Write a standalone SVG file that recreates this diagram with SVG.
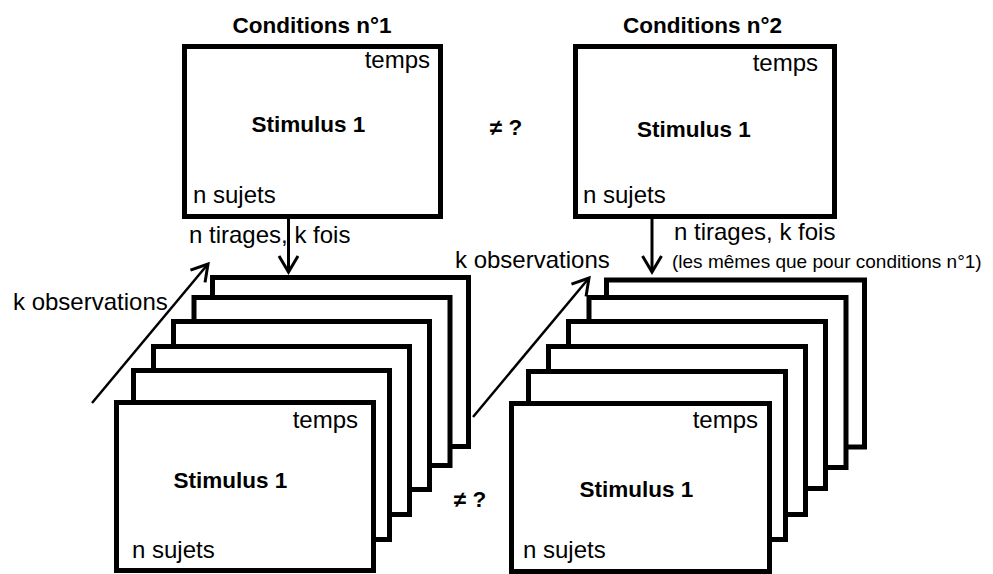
<svg xmlns="http://www.w3.org/2000/svg" width="993" height="574" viewBox="0 0 993 574">
<style>
.box{fill:#fff;stroke:#000;stroke-width:5}
.t{font-family:"Liberation Sans",Arial,sans-serif;font-size:24px;fill:#000}
.b{font-family:"Liberation Sans",Arial,sans-serif;font-size:22.5px;font-weight:bold;fill:#000}
.s{font-family:"Liberation Sans",Arial,sans-serif;font-size:19px;fill:#000}
.arr{stroke:#000;fill:none;marker-end:url(#head)}
</style>
<defs>
<marker id="head" markerUnits="userSpaceOnUse" orient="auto" markerWidth="40" markerHeight="40" viewBox="-20 -20 40 40" refX="0" refY="0">
<path d="M -16 -9.5 L 0 0 L -16 9.5" fill="none" stroke="#000" stroke-width="3" stroke-linejoin="miter"/>
</marker>
</defs>
<rect width="993" height="574" fill="#fff"/>

<text class="b" x="312" y="33" text-anchor="middle">Conditions n°1</text>
<text class="b" x="702.5" y="33" text-anchor="middle">Conditions n°2</text>

<g id="cond1">
<rect class="box" x="184.5" y="46.5" width="256" height="170"/>
<text class="t" x="430" y="68" text-anchor="end">temps</text>
<text class="b" x="308.5" y="132" text-anchor="middle">Stimulus 1</text>
<text class="t" x="193" y="203">n sujets</text>
</g>

<g id="cond2">
<rect class="box" x="575.5" y="46.5" width="259" height="170"/>
<text class="t" x="818" y="71" text-anchor="end">temps</text>
<text class="b" x="694" y="137" text-anchor="middle">Stimulus 1</text>
<text class="t" x="583" y="203">n sujets</text>
</g>

<text class="b" x="506" y="135" text-anchor="middle">≠ ?</text>

<g id="stack1">
<rect class="box" x="212.5" y="277.5" width="256" height="169"/>
<rect class="box" x="194" y="297.5" width="256" height="168"/>
<rect class="box" x="173.5" y="321.5" width="256" height="168"/>
<rect class="box" x="153.5" y="346.5" width="256" height="168"/>
<rect class="box" x="133.5" y="370.5" width="256" height="169"/>
<rect class="box" x="116.5" y="402.5" width="257" height="168"/>
<text class="t" x="358" y="428" text-anchor="end">temps</text>
<text class="b" x="230.5" y="488" text-anchor="middle">Stimulus 1</text>
<text class="t" x="132" y="558">n sujets</text>
</g>

<g id="stack2">
<rect class="box" x="606.5" y="280" width="258" height="167"/>
<rect class="box" x="589" y="297.5" width="257" height="170"/>
<rect class="box" x="568.5" y="321.5" width="257" height="167"/>
<rect class="box" x="548.5" y="346.5" width="257" height="168"/>
<rect class="box" x="528.5" y="371.5" width="257" height="168"/>
<rect class="box" x="511.5" y="403.5" width="258" height="168"/>
<text class="t" x="758" y="428" text-anchor="end">temps</text>
<text class="b" x="636.5" y="497" text-anchor="middle">Stimulus 1</text>
<text class="t" x="523" y="558">n sujets</text>
</g>

<text class="b" x="470" y="507" text-anchor="middle">≠ ?</text>

<g id="connectors">
<line class="arr" x1="288.5" y1="217" x2="288.5" y2="272" stroke-width="3"/>
<line class="arr" x1="652" y1="217" x2="652" y2="272" stroke-width="3"/>
<line class="arr" x1="92" y1="403" x2="208" y2="264" stroke-width="2.5"/>
<line class="arr" x1="473" y1="417" x2="589" y2="278" stroke-width="2.5"/>
</g>

<text class="t" x="189" y="243">n tirages, k fois</text>
<text class="t" x="674" y="240">n tirages, k fois</text>
<text class="s" x="672" y="268">(les mêmes que pour conditions n°1)</text>
<text class="t" x="13" y="310">k observations</text>
<text class="t" x="455" y="268">k observations</text>
</svg>
